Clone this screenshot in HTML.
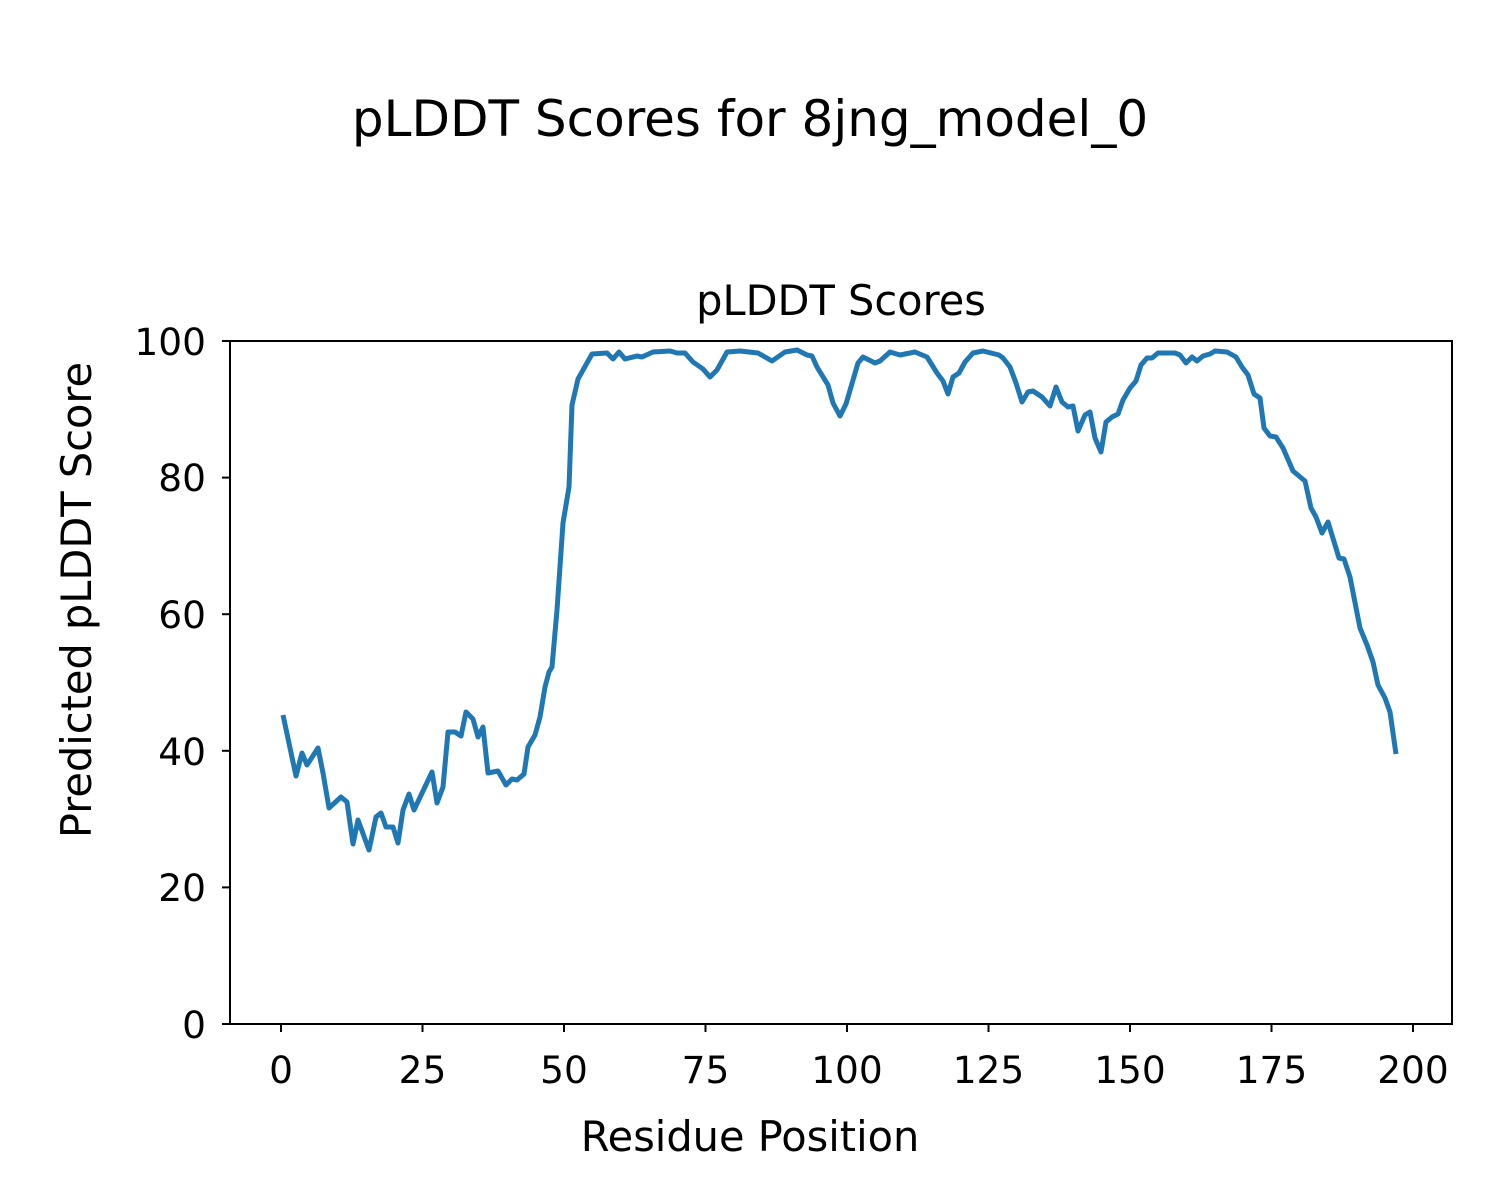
<!DOCTYPE html>
<html><head><style>body{margin:0;background:#fff}svg{display:block}text{font-family:"DejaVu Sans","Liberation Sans",sans-serif;fill:#000}</style></head>
<body>
<svg width="1500" height="1200" viewBox="0 0 1500 1200" xmlns="http://www.w3.org/2000/svg">
<rect width="1500" height="1200" fill="#fff"/>
<text x="750" y="136" font-size="50" text-anchor="middle">pLDDT Scores for 8jng_model_0</text>
<text x="841" y="315" font-size="41.5" text-anchor="middle">pLDDT Scores</text>
<polyline fill="none" stroke="#1f77b4" stroke-width="5" stroke-linejoin="round" points="283,715 296,776 302,753 307,765 318,748 323,773 329,808 341,797 347,802 353,844 358,820 369,850 376,817 381,813 386,827 393,827 398,843 403,810 409,794 414,810 432,772 437,803 443,787 448,732 455,732 461,736 466,712 473,719 478,737 483,727 488,773 498,771 506,785 512,779 517,780 524,774 528,747 535,735 540,717 545,687 549,672 552,667 557,610 563,523 569,487 572,405 578,379 592,354 607,353 613,359 619,352 625,359 637,356 642,357 653,352 670,351 677,353 685,353 693,362 703,369 710,377 717,370 727,352 740,351 758,353 772,361 785,352 797,350 807,355 812,356 817,367 828,385 833,403 840,416 846,404 858,363 863,357 875,363 880,361 890,352 900,355 915,352 927,357 937,373 943,381 948,394 953,377 959,373 965,362 973,353 983,351 999,355 1003,358 1010,367 1016,383 1022,402 1028,392 1033,391 1042,397 1050,406 1056,387 1062,402 1068,407 1073,406 1078,431 1085,415 1090,412 1095,438 1101,452 1106,422 1112,417 1118,414 1123,400 1130,388 1136,381 1141,365 1147,358 1152,358 1158,353 1175,353 1180,355 1186,363 1192,357 1197,361 1203,356 1210,354 1215,351 1227,352 1236,357 1242,367 1248,375 1254,394 1260,398 1264,428 1270,436 1276,437 1283,448 1293,471 1305,481 1311,508 1316,517 1322,533 1328,522 1339,558 1344,559 1350,577 1360,628 1367,645 1373,662 1378,685 1385,698 1390,712 1396,754"/>
<rect x="230" y="341" width="1222" height="683" fill="none" stroke="#000" stroke-width="2"/>
<g stroke="#000" stroke-width="2">
<line x1="230" y1="1024" x2="222" y2="1024"/><line x1="230" y1="887.4" x2="222" y2="887.4"/><line x1="230" y1="750.8" x2="222" y2="750.8"/><line x1="230" y1="614.2" x2="222" y2="614.2"/><line x1="230" y1="477.6" x2="222" y2="477.6"/><line x1="230" y1="341" x2="222" y2="341"/>
<line x1="281" y1="1024" x2="281" y2="1032"/><line x1="422.5" y1="1024" x2="422.5" y2="1032"/><line x1="564" y1="1024" x2="564" y2="1032"/><line x1="705.5" y1="1024" x2="705.5" y2="1032"/><line x1="847" y1="1024" x2="847" y2="1032"/><line x1="988.5" y1="1024" x2="988.5" y2="1032"/><line x1="1130" y1="1024" x2="1130" y2="1032"/><line x1="1271.5" y1="1024" x2="1271.5" y2="1032"/><line x1="1413" y1="1024" x2="1413" y2="1032"/>
</g>
<g font-size="37.5" text-anchor="end">
<text x="206" y="1038">0</text><text x="206" y="901">20</text><text x="206" y="765">40</text><text x="206" y="628">60</text><text x="206" y="491">80</text><text x="206" y="355">100</text>
</g>
<g font-size="37.5" text-anchor="middle">
<text x="281" y="1083">0</text><text x="422.5" y="1083">25</text><text x="564" y="1083">50</text><text x="705.5" y="1083">75</text><text x="847" y="1083">100</text><text x="988.5" y="1083">125</text><text x="1130" y="1083">150</text><text x="1271.5" y="1083">175</text><text x="1413" y="1083">200</text>
</g>
<text x="750" y="1151" font-size="41.5" text-anchor="middle">Residue Position</text>
<text transform="translate(91,600) rotate(-90)" font-size="41.5" text-anchor="middle">Predicted pLDDT Score</text>
</svg>
</body></html>
